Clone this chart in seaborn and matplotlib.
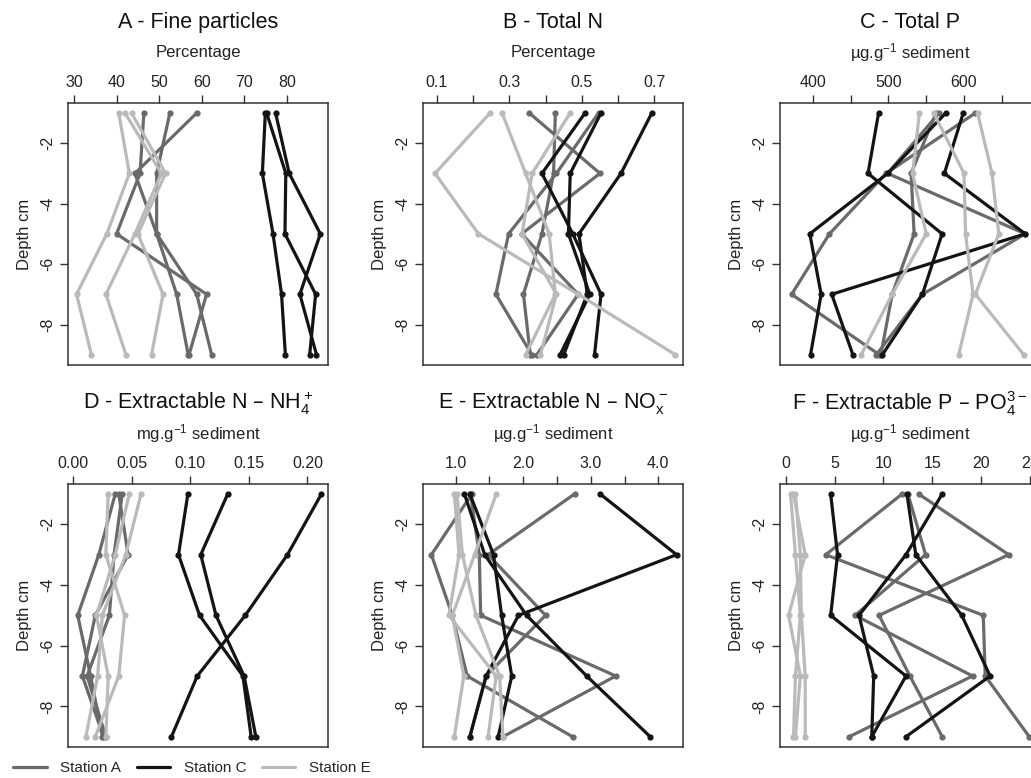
import numpy as np
import pandas as pd
import matplotlib
matplotlib.use("Agg")
import matplotlib.pyplot as plt
from matplotlib.lines import Line2D
import seaborn as sns

# ---------------- data ----------------
depths = [-1, -3, -5, -7, -9]
stations = ["Station A", "Station C", "Station E"]

# Panel A - fine particles (%), three replicate cores per station
fine_A = [[58.8, 44.3, 49.4, 54.1, 56.8], [52.5, 49.4, 49.4, 58.8, 62.3], [46.4, 45.5, 40.0, 61.1, 57.0]]
fine_C = [[74.9, 74.2, 76.7, 78.7, 79.6], [77.3, 80.5, 87.8, 83.0, 86.9], [75.2, 79.7, 79.5, 86.7, 85.3]]
fine_E = [[40.5, 43.0, 37.7, 30.6, 34.1], [42.0, 50.5, 44.3, 37.5, 42.2], [43.5, 51.5, 45.0, 50.9, 48.2]]

# Panel B - total N (%)
totN_A = [[0.355, 0.550, 0.334, 0.490, 0.376], [0.427, 0.422, 0.390, 0.339, 0.358], [0.546, 0.430, 0.298, 0.263, 0.362]]
totN_C = [[0.693, 0.608, 0.492, 0.515, 0.450], [0.553, 0.468, 0.463, 0.522, 0.440], [0.509, 0.390, 0.475, 0.553, 0.535]]
totN_E = [[0.247, 0.095, 0.215, 0.490, 0.758], [0.280, 0.345, 0.410, 0.427, 0.345], [0.468, 0.363, 0.335, 0.430, 0.386]]

# Panel C - total P (ug/g)
totP_A = [[615, 497, 422, 372, 488], [567, 499, 681, 545, 484], [563, 530, 534, 505, 490]]
totP_C = [[487, 473, 571, 545, 492], [576, 499, 396, 411, 397], [599, 574, 681, 425, 453]]
totP_E = [[618, 637, 646, 615, 679], [541, 532, 550, 505, 464], [560, 600, 602, 612, 593]]

# Panel D - extractable NH4+ (mg/g)
nh4_A = [[0.036, 0.022, 0.004, 0.015, 0.025], [0.039, 0.047, 0.019, 0.008, 0.026], [0.042, 0.035, 0.031, 0.012, 0.028]]
nh4_C = [[0.098, 0.090, 0.108, 0.145, 0.152], [0.132, 0.109, 0.122, 0.146, 0.156], [0.212, 0.183, 0.147, 0.106, 0.084]]
nh4_E = [[0.058, 0.045, 0.025, 0.021, 0.011], [0.030, 0.028, 0.044, 0.039, 0.019], [0.048, 0.036, 0.020, 0.030, 0.028]]

# Panel E - extractable NOx- (ug/g)
nox_A = [[2.76, 1.48, 2.33, 1.45, 1.21], [1.24, 0.64, 0.95, 1.17, 2.73], [1.22, 1.35, 1.37, 3.37, 1.70]]
nox_C = [[1.21, 1.56, 1.68, 1.83, 1.63], [3.14, 4.27, 1.93, 1.45, 1.21], [1.13, 1.43, 2.05, 2.94, 3.88]]
nox_E = [[0.98, 1.05, 0.90, 1.60, 1.48], [1.60, 1.28, 0.95, 1.12, 0.98], [1.02, 1.10, 1.30, 1.65, 1.70]]

# Panel F - extractable PO4 3- (ug/g)
po4_A = [[13.6, 22.8, 9.55, 12.7, 16.0], [12.5, 14.3, 7.1, 19.1, 6.5], [11.9, 4.1, 20.2, 20.4, 24.9]]
po4_C = [[4.6, 5.3, 4.6, 12.3, 8.8], [12.4, 13.3, 18.0, 20.9, 12.3], [16.0, 12.3, 7.5, 9.0, 8.8]]
po4_E = [[0.5, 1.0, 1.5, 1.0, 0.8], [0.8, 2.0, 0.3, 1.5, 1.0], [1.0, 1.5, 1.6, 2.0, 2.0]]

titles = ["A - Fine particles", "B - Total N", "C - Total P",
          "D - Extractable N – NH$_4^+$", "E - Extractable N – NO$_x^-$",
          "F - Extractable P – PO$_4^{3-}$"]
units = ["Percentage", "Percentage", "µg.g$^{-1}$ sediment",
         "mg.g$^{-1}$ sediment", "µg.g$^{-1}$ sediment", "µg.g$^{-1}$ sediment"]

panel_data = [(fine_A, fine_C, fine_E), (totN_A, totN_C, totN_E), (totP_A, totP_C, totP_E),
              (nh4_A, nh4_C, nh4_E), (nox_A, nox_C, nox_E), (po4_A, po4_C, po4_E)]

xlims = [(28.6, 89.6), (0.062, 0.779), (356.6, 700.5), (-0.0043, 0.2176), (0.516, 4.366), (-0.58, 26.0)]
major_ticks = [[30, 40, 50, 60, 70, 80], [0.1, 0.3, 0.5, 0.7], [400, 500, 600],
               [0.0, 0.05, 0.10, 0.15, 0.20], [1.0, 2.0, 3.0, 4.0], [0, 5, 10, 15, 20, 25]]
minor_ticks = [[], [0.2, 0.4, 0.6], [450, 550, 650, 700], [], [1.5, 2.5, 3.5], []]
tick_fmt = ["{:.0f}", "{:.1f}", "{:.0f}", "{:.2f}", "{:.1f}", "{:.0f}"]

colors = {"Station A": "#6a6a6a", "Station C": "#141414", "Station E": "#bababa"}

# ---------------- style ----------------
sns.set_style("ticks")
plt.rcParams["font.family"] = ["Liberation Sans", "DejaVu Sans"]
plt.rcParams["mathtext.default"] = "regular"
plt.rcParams["axes.unicode_minus"] = False

W, H = 1031, 778
fig = plt.figure(figsize=(W / 100, H / 100), dpi=100)

# axes boxes in pixels: (left, top, width, height)
boxes = [(68, 103, 260, 262), (423, 103, 260, 262), (780, 103, 260, 262),
         (68, 484, 260, 263), (423, 484, 260, 263), (780, 484, 260, 263)]

for i, (l, t, w, h) in enumerate(boxes):
    ax = fig.add_axes([l / W, 1 - (t + h) / H, w / W, h / H])
    rows = []
    for st, reps in zip(stations, panel_data[i]):
        for r, vals in enumerate(reps):
            for d, v in zip(depths, vals):
                rows.append({"depth": d, "value": v, "station": st, "rep": r})
    df = pd.DataFrame(rows)
    sns.lineplot(data=df, x="value", y="depth", hue="station", units="rep",
                 estimator=None, sort=False, palette=colors, hue_order=stations,
                 linewidth=2.3, marker="o", markersize=4.5, markeredgewidth=0,
                 legend=False, ax=ax, clip_on=False)
    ax.set_xlim(*xlims[i])
    ax.set_ylim(-9.34, -0.67)
    ax.xaxis.tick_top()
    ax.set_xticks(major_ticks[i] + minor_ticks[i])
    labels = [tick_fmt[i].format(v) for v in major_ticks[i]] + ["" for _ in minor_ticks[i]]
    ax.set_xticklabels(labels)
    ax.set_yticks([-2, -4, -6, -8])
    ax.set_yticklabels(["-2", "-4", "-6", "-8"], rotation=90, va="center")
    ax.tick_params(axis="both", length=6, width=1.0, color="#333333", labelsize=11.5,
                   labelcolor="#222222")
    ax.tick_params(axis="x", pad=3)
    ax.tick_params(axis="y", pad=3)
    for s in ax.spines.values():
        s.set_visible(True)
        s.set_linewidth(1.1)
        s.set_color("#333333")
    ax.set_xlabel("")
    ax.set_ylabel("Depth cm", fontsize=12, labelpad=6, color="#222222")
    ax.annotate(units[i], xy=(0.5, 1), xycoords="axes fraction", xytext=(0, 36),
                textcoords="offset points", ha="center", va="center", fontsize=12,
                color="#222222")
    ax.annotate(titles[i], xy=(0.5, 1), xycoords="axes fraction", xytext=(0, 58),
                textcoords="offset points", ha="center", va="center", fontsize=15.5,
                color="#111111")

handles = [Line2D([], [], color=colors[s], lw=2.3) for s in stations]
fig.legend(handles, stations, loc="center left", bbox_to_anchor=(13 / W, 1 - 768 / H),
           ncol=3, frameon=False, fontsize=11, handlelength=2.2, handletextpad=0.9,
           columnspacing=1.0, borderpad=0, borderaxespad=0)

fig.savefig("out.png", dpi=100)
